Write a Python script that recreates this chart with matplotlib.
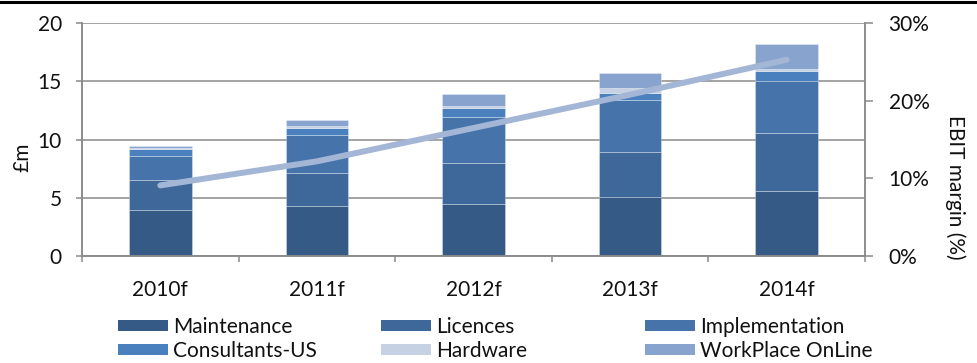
import matplotlib
matplotlib.use("Agg")
import matplotlib.pyplot as plt
from matplotlib.lines import Line2D
from matplotlib.patches import Patch
import numpy as np

plt.rcParams['font.family'] = ['Lato', 'DejaVu Sans']
plt.rcParams['font.weight'] = 'normal'

years = ["2010f", "2011f", "2012f", "2013f", "2014f"]
maintenance = [3.95, 4.27, 4.45, 5.10, 5.60]
licences = [2.55, 2.83, 3.55, 3.87, 4.95]
implementation = [2.12, 3.30, 3.98, 4.42, 4.52]
consultants_us = [0.55, 0.63, 0.75, 0.65, 0.83]
hardware = [0.12, 0.17, 0.17, 0.38, 0.15]
workplace_online = [0.19, 0.49, 1.00, 1.28, 2.18]
ebit_margin = [9.1, 12.2, 16.5, 20.8, 25.3]

series_names = ["Maintenance", "Licences", "Implementation",
                "Consultants-US", "Hardware", "WorkPlace OnLine"]
series_vals = [maintenance, licences, implementation,
               consultants_us, hardware, workplace_online]
colors = ["#355a86", "#3e6899", "#4674aa", "#4a80be", "#c6d1e4", "#88a3cd"]

FS = 15
TXT = "#111111"

fig = plt.figure(figsize=(9.78, 3.63), dpi=100)
ax = fig.add_axes([82/978, 1-256/363, (865-82)/978, (256-23.3)/363])
ax2 = ax.twinx()

x = np.arange(len(years))
bottom = np.zeros(len(years))
for name, vals, c in zip(series_names, series_vals, colors):
    ax.bar(x, vals, 0.40, bottom=bottom, color=c, edgecolor=(1, 1, 1, 0.35),
           linewidth=0.6, label=name, zorder=2)
    bottom += np.array(vals)

ax2.plot(x, ebit_margin, color="#a4b6d6", lw=4.3, solid_capstyle="round",
         solid_joinstyle="round", zorder=3)

gray = "#8a8a8a"
ax.set_xlim(-0.5, 4.5)
ax.set_ylim(0, 20)
ax.set_yticks([0, 5, 10, 15, 20])
ax.yaxis.grid(True, color=gray, lw=1.1)
ax.set_axisbelow(True)
ax.set_xticks(x)
ax.set_xticklabels(years)
ax.set_xticks(np.arange(-0.5, 5.0, 1.0), minor=True)
ax.tick_params(axis="x", which="major", length=0, pad=17, labelsize=FS, labelcolor=TXT)
ax.tick_params(axis="x", which="minor", length=4, width=1.1, color=gray, direction="out")
ax.tick_params(axis="y", length=4.5, width=1.1, color=gray, pad=10, labelsize=FS, labelcolor=TXT)

ax2.set_ylim(0, 30)
ax2.set_yticks([0, 10, 20, 30])
ax2.set_yticklabels(["0%", "10%", "20%", "30%"])
ax2.tick_params(axis="y", length=6, width=1.1, color=gray, pad=11, labelsize=FS, labelcolor=TXT)

for a in (ax, ax2):
    a.spines["top"].set_visible(False)
    for s in ("left", "right", "bottom"):
        a.spines[s].set_color(gray)
        a.spines[s].set_linewidth(1.1)

fig.text(22/978, 1-157/363, "£m", rotation=90, ha="center", va="center",
         fontsize=FS, color=TXT)
fig.text(955/978, 1-187/363, "EBIT margin (%)", rotation=270, ha="center", va="center",
         fontsize=FS, color=TXT)

# top black rule
fig.add_artist(Line2D([0, 1], [1-1.5/363, 1-1.5/363], color="black", lw=2.2,
                      transform=fig.transFigure))

# legend: three columns placed on a grid
col_x = [118, 381, 645]
for ci in range(3):
    idxs = [ci, ci + 3]
    handles = [Patch(facecolor=colors[i], edgecolor="none") for i in idxs]
    labels = [series_names[i] for i in idxs]
    leg = fig.legend(handles, labels, loc="upper left",
                     bbox_to_anchor=(col_x[ci]/978, 1-317/363),
                     frameon=False, fontsize=FS, handlelength=2.4,
                     handleheight=0.45, handletextpad=0.25, labelspacing=0.2,
                     borderpad=0, borderaxespad=0)
    for t in leg.get_texts():
        t.set_color(TXT)

fig.savefig("out.png", dpi=100)
